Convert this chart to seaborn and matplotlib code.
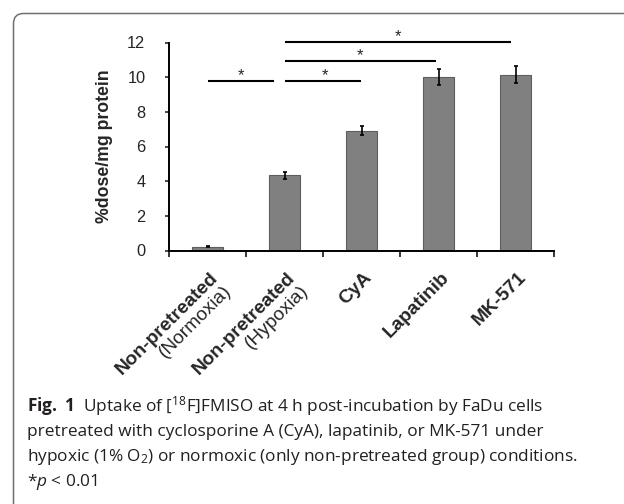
import matplotlib
matplotlib.use("Agg")
import matplotlib.pyplot as plt
import matplotlib.transforms as mtransforms
from matplotlib.patches import FancyBboxPatch
import pandas as pd
import seaborn as sns

# Data
groups = ["Non-pretreated\n(Normoxia)", "Non-pretreated\n(Hypoxia)", "CyA", "Lapatinib", "MK-571"]
bold_names = ["Non-pretreated", "Non-pretreated", "CyA", "Lapatinib", "MK-571"]
sub_names = ["(Normoxia)", "(Hypoxia)", "", "", ""]
uptake = [0.22, 4.35, 6.92, 10.02, 10.15]
uptake_sd = [0.03, 0.20, 0.28, 0.48, 0.47]

# significance brackets: (x start, x end, y) and star position
sig_start = [0.0, 1.0, 1.0, 1.0]
sig_end = [0.87, 1.99, 2.97, 3.94]
sig_y = [9.79, 9.79, 10.94, 12.02]
star_x = [0.43, 1.52, 1.98, 2.47]

df = pd.DataFrame({"group": groups, "uptake": uptake})

sns.set_style("white")
plt.rcParams["font.family"] = ["Liberation Sans", "DejaVu Sans"]

fig = plt.figure(figsize=(6.24, 5.04), dpi=100)
ax = fig.add_axes([169 / 624, 1 - 250.5 / 504, 385 / 624, 208 / 504])

sns.barplot(data=df, x="group", y="uptake", color="#808080", width=0.40,
            edgecolor="#5e5e5e", linewidth=0.8, saturation=1, errorbar=None, ax=ax)
ax.errorbar(range(len(uptake)), uptake, yerr=uptake_sd, fmt="none", ecolor="black",
            elinewidth=1.2, capsize=1.6, capthick=1.2)

ax.set_ylim(0, 12)
ax.set_xlim(-0.5, 4.5)
ax.set_yticks(range(0, 13, 2))
ax.tick_params(axis="y", labelsize=11.8, length=3, width=1.2, direction="out", left=True, pad=14)
ax.set_xticks([i - 0.5 for i in range(len(groups) + 1)])
ax.set_xticklabels([])
ax.tick_params(axis="x", length=4.5, width=1.3, direction="out", bottom=True)
for s in ["top", "right"]:
    ax.spines[s].set_visible(False)
for s in ["left", "bottom"]:
    ax.spines[s].set_color("black")
    ax.spines[s].set_linewidth(1.4)
ax.set_xlabel("")
ax.set_ylabel("%dose/mg protein", fontsize=12.7, fontweight="bold", labelpad=10)

# rotated category labels (Excel-like placement)
base = mtransforms.blended_transform_factory(ax.transData, ax.transAxes)
for i, (b, s) in enumerate(zip(bold_names, sub_names)):
    tr = base + mtransforms.ScaledTranslation(2 / 100, -18.5 / 100, fig.dpi_scale_trans)
    ax.text(i, 0, b, transform=tr, rotation=45, rotation_mode="anchor", ha="right",
            va="top", fontsize=13.8, fontweight="bold", clip_on=False)
    if s:
        tr2 = base + mtransforms.ScaledTranslation(15 / 100, -31.5 / 100, fig.dpi_scale_trans)
        ax.text(i, 0, s, transform=tr2, rotation=45, rotation_mode="anchor", ha="right",
                va="top", fontsize=13.8, clip_on=False)

# significance lines
for x0, x1, y, sx in zip(sig_start, sig_end, sig_y, star_x):
    ax.plot([x0, x1], [y, y], color="black", lw=1.5, clip_on=False, solid_capstyle="butt")
    ax.text(sx, y + 0.05, "*", ha="center", va="baseline", fontsize=12, clip_on=False)

# panel frame (pixel coordinates, rounded top-left corner)
frame = FancyBboxPatch((13.5, -60), 700, 504 - 13.5 + 60,
                       boxstyle="round,pad=0,rounding_size=10",
                       transform=mtransforms.IdentityTransform(), fill=False,
                       edgecolor="#707070", linewidth=1.1, clip_on=False)
fig.patches.append(frame)

# caption
plt.rcParams["mathtext.fontset"] = "custom"
plt.rcParams["mathtext.rm"] = "Open Sans"
plt.rcParams["mathtext.it"] = "Open Sans:italic"
plt.rcParams["mathtext.bf"] = "Open Sans:bold"
cap = dict(fontsize=12.4, family="Open Sans", color="#231f20", ha="left", va="baseline")
fig.text(27 / 624, 1 - 411 / 504,
         r"$\mathbf{Fig.\ 1}$  Uptake of [$^{18}$F]FMISO at 4 h post-incubation by FaDu cells", **cap)
fig.text(27 / 624, 1 - 436 / 504,
         "pretreated with cyclosporine A (CyA), lapatinib, or MK-571 under", **cap)
fig.text(27 / 624, 1 - 461 / 504,
         r"hypoxic (1% O$_2$) or normoxic (only non-pretreated group) conditions.", **cap)
fig.text(27 / 624, 1 - 486 / 504, r"*$p$ < 0.01", **cap)

fig.savefig("out.png", dpi=100)
